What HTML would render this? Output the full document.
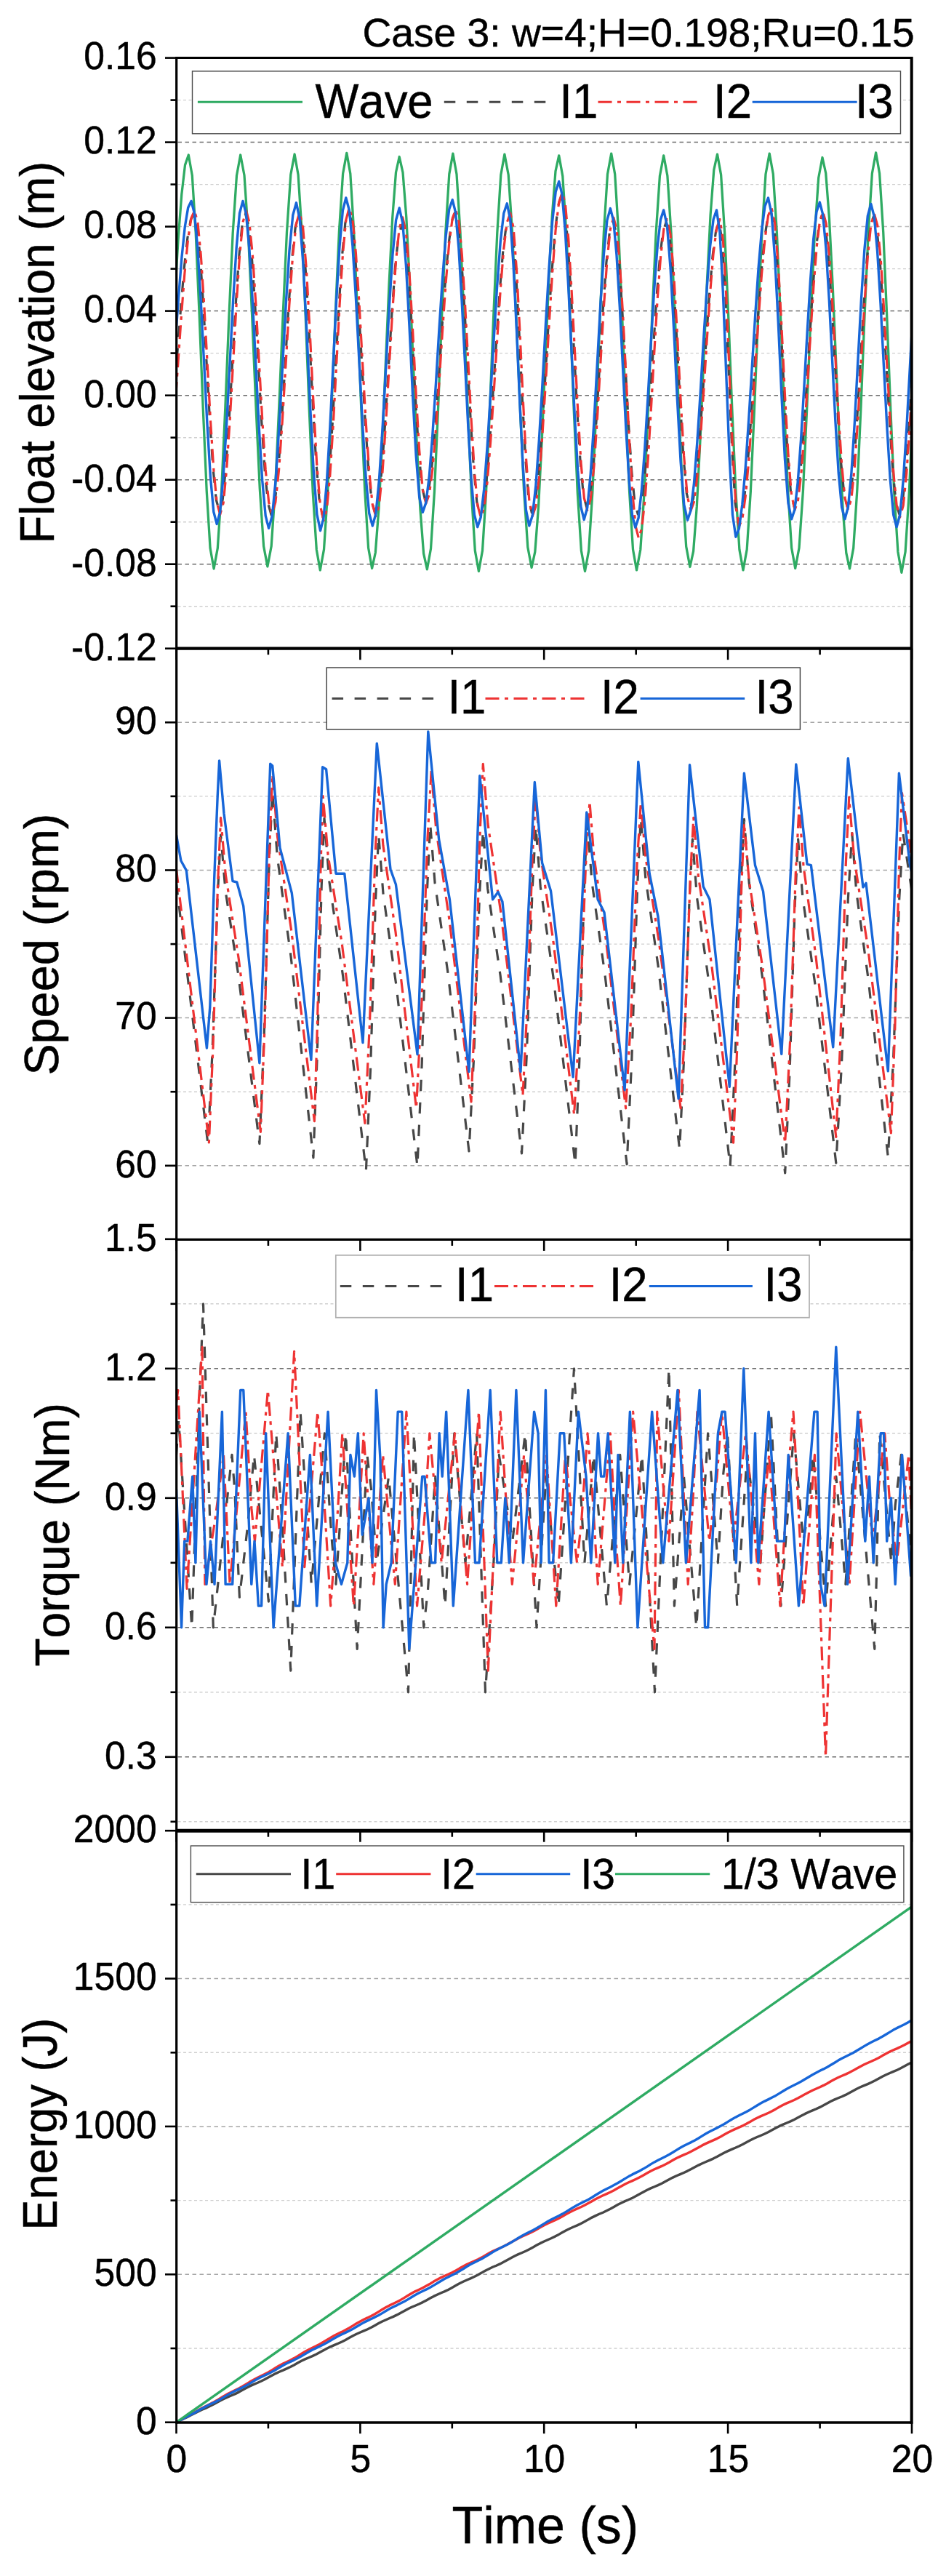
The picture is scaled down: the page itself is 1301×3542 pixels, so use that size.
<!DOCTYPE html>
<html><head><meta charset="utf-8"><title>Case 3</title>
<style>html,body{margin:0;padding:0;background:#fff;}svg{display:block;}text{font-family:"Liberation Sans",sans-serif;fill:#000;stroke:#000;stroke-width:0.45px;font-kerning:none;}</style>
</head><body>
<svg width="1301" height="3542" viewBox="0 0 1301 3542">
<rect width="1301" height="3542" fill="#fff"/>
<defs>
<clipPath id="c1"><rect x="242.5" y="79.6" width="1011.5" height="812.1"/></clipPath>
<clipPath id="c2"><rect x="242.5" y="891.7" width="1011.5" height="812.7"/></clipPath>
<clipPath id="c3"><rect x="242.5" y="1704.4" width="1011.5" height="812.7999999999997"/></clipPath>
<clipPath id="c4"><rect x="242.5" y="2517.2" width="1011.5" height="813.5"/></clipPath>
</defs>
<line x1="244.5" y1="195.6" x2="1252.0" y2="195.6" stroke="#6e6e6e" stroke-width="1.5" stroke-dasharray="5.5 4.5"/>
<line x1="244.5" y1="427.6" x2="1252.0" y2="427.6" stroke="#6e6e6e" stroke-width="1.5" stroke-dasharray="5.5 4.5"/>
<line x1="244.5" y1="543.7" x2="1252.0" y2="543.7" stroke="#6e6e6e" stroke-width="1.5" stroke-dasharray="5.5 4.5"/>
<line x1="244.5" y1="659.7" x2="1252.0" y2="659.7" stroke="#6e6e6e" stroke-width="1.5" stroke-dasharray="5.5 4.5"/>
<line x1="244.5" y1="775.7" x2="1252.0" y2="775.7" stroke="#6e6e6e" stroke-width="1.5" stroke-dasharray="5.5 4.5"/>
<line x1="244.5" y1="311.6" x2="1252.0" y2="311.6" stroke="#bdbdbd" stroke-width="1.5" stroke-dasharray="5.5 4.5"/>
<line x1="244.5" y1="137.6" x2="1252.0" y2="137.6" stroke="#cfcfcf" stroke-width="1.4" stroke-dasharray="4 3.5"/>
<line x1="244.5" y1="253.6" x2="1252.0" y2="253.6" stroke="#cfcfcf" stroke-width="1.4" stroke-dasharray="4 3.5"/>
<line x1="244.5" y1="369.6" x2="1252.0" y2="369.6" stroke="#cfcfcf" stroke-width="1.4" stroke-dasharray="4 3.5"/>
<line x1="244.5" y1="485.6" x2="1252.0" y2="485.6" stroke="#cfcfcf" stroke-width="1.4" stroke-dasharray="4 3.5"/>
<line x1="244.5" y1="601.7" x2="1252.0" y2="601.7" stroke="#cfcfcf" stroke-width="1.4" stroke-dasharray="4 3.5"/>
<line x1="244.5" y1="717.7" x2="1252.0" y2="717.7" stroke="#cfcfcf" stroke-width="1.4" stroke-dasharray="4 3.5"/>
<line x1="244.5" y1="833.7" x2="1252.0" y2="833.7" stroke="#cfcfcf" stroke-width="1.4" stroke-dasharray="4 3.5"/>
<line x1="244.5" y1="993.3" x2="1252.0" y2="993.3" stroke="#a6a6a6" stroke-width="1.5" stroke-dasharray="5.5 4.5"/>
<line x1="244.5" y1="1196.5" x2="1252.0" y2="1196.5" stroke="#a6a6a6" stroke-width="1.5" stroke-dasharray="5.5 4.5"/>
<line x1="244.5" y1="1399.6" x2="1252.0" y2="1399.6" stroke="#a6a6a6" stroke-width="1.5" stroke-dasharray="5.5 4.5"/>
<line x1="244.5" y1="1602.8" x2="1252.0" y2="1602.8" stroke="#a6a6a6" stroke-width="1.5" stroke-dasharray="5.5 4.5"/>
<line x1="244.5" y1="1094.9" x2="1252.0" y2="1094.9" stroke="#cfcfcf" stroke-width="1.4" stroke-dasharray="4 3.5"/>
<line x1="244.5" y1="1298.1" x2="1252.0" y2="1298.1" stroke="#cfcfcf" stroke-width="1.4" stroke-dasharray="4 3.5"/>
<line x1="244.5" y1="1501.2" x2="1252.0" y2="1501.2" stroke="#cfcfcf" stroke-width="1.4" stroke-dasharray="4 3.5"/>
<line x1="244.5" y1="1881.8" x2="1252.0" y2="1881.8" stroke="#6e6e6e" stroke-width="1.5" stroke-dasharray="5.5 4.5"/>
<line x1="244.5" y1="2059.8" x2="1252.0" y2="2059.8" stroke="#6e6e6e" stroke-width="1.5" stroke-dasharray="5.5 4.5"/>
<line x1="244.5" y1="2237.8" x2="1252.0" y2="2237.8" stroke="#6e6e6e" stroke-width="1.5" stroke-dasharray="5.5 4.5"/>
<line x1="244.5" y1="2415.8" x2="1252.0" y2="2415.8" stroke="#6e6e6e" stroke-width="1.5" stroke-dasharray="5.5 4.5"/>
<line x1="244.5" y1="1792.8" x2="1252.0" y2="1792.8" stroke="#cfcfcf" stroke-width="1.4" stroke-dasharray="4 3.5"/>
<line x1="244.5" y1="1970.8" x2="1252.0" y2="1970.8" stroke="#cfcfcf" stroke-width="1.4" stroke-dasharray="4 3.5"/>
<line x1="244.5" y1="2148.8" x2="1252.0" y2="2148.8" stroke="#cfcfcf" stroke-width="1.4" stroke-dasharray="4 3.5"/>
<line x1="244.5" y1="2326.8" x2="1252.0" y2="2326.8" stroke="#cfcfcf" stroke-width="1.4" stroke-dasharray="4 3.5"/>
<line x1="244.5" y1="2504.8" x2="1252.0" y2="2504.8" stroke="#cfcfcf" stroke-width="1.4" stroke-dasharray="4 3.5"/>
<line x1="244.5" y1="2720.6" x2="1252.0" y2="2720.6" stroke="#a6a6a6" stroke-width="1.5" stroke-dasharray="5.5 4.5"/>
<line x1="244.5" y1="2923.9" x2="1252.0" y2="2923.9" stroke="#a6a6a6" stroke-width="1.5" stroke-dasharray="5.5 4.5"/>
<line x1="244.5" y1="3127.3" x2="1252.0" y2="3127.3" stroke="#a6a6a6" stroke-width="1.5" stroke-dasharray="5.5 4.5"/>
<line x1="244.5" y1="2618.9" x2="1252.0" y2="2618.9" stroke="#cfcfcf" stroke-width="1.4" stroke-dasharray="4 3.5"/>
<line x1="244.5" y1="2822.3" x2="1252.0" y2="2822.3" stroke="#cfcfcf" stroke-width="1.4" stroke-dasharray="4 3.5"/>
<line x1="244.5" y1="3025.6" x2="1252.0" y2="3025.6" stroke="#cfcfcf" stroke-width="1.4" stroke-dasharray="4 3.5"/>
<line x1="244.5" y1="3229" x2="1252.0" y2="3229" stroke="#cfcfcf" stroke-width="1.4" stroke-dasharray="4 3.5"/>
<polyline points="235.4,497.5 240.2,409.6 245,330.3 249.8,267.3 254.5,226.9 259.3,213 264.3,241.2 269.2,320.1 274.2,434.2 279.2,560.8 284.2,674.9 289.1,753.8 294.1,782 299.3,753.8 304.6,674.9 309.8,560.8 315,434.2 320.2,320.1 325.5,241.2 330.7,213 336,241 341.3,319.6 346.6,433 352,559 357.3,672.4 362.6,751 367.9,779 373.2,750.9 378.5,672.3 383.8,558.6 389.2,432.4 394.5,318.7 399.8,240.1 405.1,212 410.1,240.3 415.2,319.7 420.2,434.4 425.2,561.6 430.2,676.3 435.3,755.7 440.3,784 445.5,755.6 450.7,676 455.9,561 461.2,433.4 466.4,318.4 471.6,238.8 476.8,210.4 481.8,238.7 486.7,317.9 491.7,432.4 496.7,559.5 501.7,674 506.6,753.2 511.6,781.5 516.3,760 521,698.6 525.7,606.8 530.4,498.5 535.1,390.2 539.8,298.4 544.5,237 549.2,215.5 554,237.1 558.8,298.6 563.5,390.6 568.3,499.1 573.1,607.7 577.9,699.7 582.6,761.2 587.4,782.8 592.5,754.5 597.5,675.2 602.6,560.6 607.7,433.3 612.8,318.7 617.8,239.4 622.9,211.1 628,239.5 633,319.2 638.1,434.4 643.2,562.2 648.3,677.4 653.3,757.1 658.4,785.5 663.5,757.1 668.5,677.6 673.6,562.6 678.7,435 683.8,320 688.8,240.5 693.9,212.1 699.2,240.2 704.5,319.1 709.8,433.1 715.2,559.5 720.5,673.5 725.8,752.4 731.1,780.5 735.8,758.9 740.5,697.5 745.2,605.6 749.9,497.2 754.6,388.7 759.3,296.8 764,235.4 768.7,213.8 773.8,242.1 778.9,321.4 784,436 789.2,563.3 794.3,677.9 799.4,757.2 804.5,785.5 809.7,757.1 814.8,677.4 820,562.2 825.2,434.4 830.4,319.2 835.5,239.5 840.7,211.1 845.7,239.5 850.6,318.9 855.6,433.8 860.6,561.2 865.6,676.1 870.5,755.5 875.5,783.9 880.8,755.7 886.1,676.6 891.4,562.3 896.8,435.4 902.1,321.1 907.4,242 912.7,213.8 917.9,241.8 923,320.3 928.2,433.7 933.4,559.6 938.6,673 943.7,751.5 948.9,779.5 953.6,757.9 958.3,696.4 963,604.4 967.7,495.8 972.4,387.2 977.1,295.2 981.8,233.7 986.5,212.1 991.6,240.4 996.6,319.7 1001.7,434.4 1006.8,561.6 1011.9,676.3 1016.9,755.6 1022,783.9 1027.2,755.5 1032.3,676.1 1037.5,561.2 1042.7,433.8 1047.9,318.9 1053,239.5 1058.2,211.1 1063.3,239.3 1068.3,318.5 1073.4,432.8 1078.5,559.8 1083.6,674.1 1088.6,753.3 1093.7,781.5 1099,753.5 1104.4,675.1 1109.7,561.9 1115,436.1 1120.3,322.9 1125.7,244.5 1131,216.5 1135.7,238 1140.4,299.3 1145.1,391 1149.8,499.2 1154.4,607.4 1159.1,699.1 1163.8,760.4 1168.5,781.9 1173.7,753.6 1178.8,674.2 1184,559.5 1189.1,432.3 1194.3,317.6 1199.4,238.2 1204.6,209.9 1209.6,238.5 1214.7,318.6 1219.7,434.4 1224.8,562.8 1229.8,678.6 1234.9,758.7 1239.9,787.3 1245.1,758.8 1250.2,679 1255.4,563.7 1260.5,435.6" fill="none" stroke="#2fab63" stroke-width="3.3" stroke-linejoin="round" clip-path="url(#c1)"/>
<polyline points="236.3,587 240.6,530.5 244.9,471.6 249.3,415.1 253.6,365.5 257.9,327 262.2,302.5 266.5,294.1 270.9,309.7 275.3,354 279.7,420.3 284.1,498.5 288.5,576.7 292.9,642.9 297.3,687.2 301.7,702.8 306.2,687.2 310.6,642.9 315.1,576.7 319.6,498.5 324.1,420.3 328.6,354 333,309.7 337.5,294.1 341.9,309.9 346.4,354.7 350.9,421.9 355.3,501.1 359.8,580.3 364.2,647.4 368.7,692.3 373.1,708 377.8,692.4 382.6,647.7 387.3,581 392.1,502.2 396.8,423.4 401.5,356.6 406.3,312 411,296.3 415.7,316.9 420.5,374.4 425.2,457.6 429.9,549.9 434.6,633.1 439.4,690.6 444.1,711.2 448.5,695.1 452.9,649.5 457.3,581.2 461.7,500.6 466.1,420.1 470.5,351.7 474.9,306.1 479.3,290.1 483.9,305.9 488.4,350.8 493,418.1 497.5,497.5 502.1,576.9 506.7,644.2 511.2,689.2 515.8,705 520.4,689.9 525,647 529.6,582.8 534.2,507 538.9,431.2 543.5,367 548.1,324 552.7,309 557.3,327.7 561.9,380.3 566.5,456.3 571,540.6 575.6,616.6 580.2,669.1 584.8,687.9 589.3,676 593.9,641.6 598.4,589.1 603,524.5 607.5,455.9 612.1,391.4 616.6,338.8 621.2,304.5 625.7,292.6 630,308.3 634.3,353.2 638.6,420.3 643,499.6 647.3,578.8 651.6,645.9 655.9,690.8 660.2,706.6 664.7,694.2 669.2,658.7 673.7,604.2 678.2,537.4 682.8,466.4 687.3,399.6 691.8,345.1 696.3,309.6 700.8,297.3 705.2,317.4 709.5,374 713.9,455.8 718.2,546.5 722.6,628.2 726.9,684.8 731.3,705 735.8,691.9 740.4,654 744.9,596.1 749.5,525 754,449.3 758.6,378.2 763.1,320.3 767.7,282.4 772.2,269.3 776.5,285.6 780.8,332 785.1,401.4 789.5,483.2 793.8,565.1 798.1,634.5 802.4,680.9 806.7,697.2 811.2,682.2 815.8,639.5 820.3,575.7 824.8,500.3 829.3,425 833.9,361.2 838.4,318.5 842.9,303.5 847.2,318.9 851.5,362.6 855.8,428.1 860.1,505.3 864.4,582.5 868.7,648 873,691.8 877.3,707.1 881.6,695 885.9,660.2 890.3,606.7 894.6,541.2 898.9,471.5 903.2,406 907.6,352.6 911.9,317.7 916.2,305.6 920.9,325 925.6,379.5 930.3,458.1 934.9,545.4 939.6,624 944.3,678.4 949,697.8 953.4,686 957.9,651.9 962.3,599.8 966.8,535.8 971.2,467.7 975.7,403.7 980.1,351.5 984.6,317.5 989,305.6 993.4,333.3 997.8,409 1002.2,512.3 1006.6,615.6 1011,691.3 1015.4,719 1019.9,708.5 1024.3,678 1028.8,630.6 1033.2,570.8 1037.7,504.5 1042.2,438.3 1046.6,378.5 1051.1,331 1055.5,300.6 1060,290.1 1064.6,310.2 1069.2,366.6 1073.8,448.1 1078.3,538.5 1082.9,620 1087.5,676.4 1092.1,696.5 1096.4,684.4 1100.7,649.6 1105,596.3 1109.3,530.9 1113.6,461.3 1117.9,395.8 1122.2,342.5 1126.5,307.7 1130.8,295.6 1135.1,310.9 1139.5,354.3 1143.8,419.4 1148.1,496.1 1152.4,572.8 1156.8,637.8 1161.1,681.3 1165.4,696.5 1169.9,681.4 1174.4,638.2 1178.9,573.5 1183.3,497.2 1187.8,420.9 1192.3,356.3 1196.8,313.1 1201.3,297.9 1205.7,313.5 1210.1,357.7 1214.5,424 1218.9,502.2 1223.4,580.4 1227.8,646.7 1232.2,691 1236.6,706.6 1241.2,691 1245.8,646.6 1250.4,580.3 1255,502 1259.7,423.7" fill="none" stroke="#474747" stroke-width="3.2" stroke-linejoin="round" stroke-dasharray="15.5 15.5" clip-path="url(#c1)"/>
<polyline points="235.9,621.8 240.4,563.5 244.9,498.9 249.4,434.3 253.9,376 258.5,329.7 263,300 267.5,289.8 271.9,305.7 276.3,351 280.7,418.7 285.1,498.6 289.5,578.5 293.9,646.2 298.3,691.5 302.7,707.4 307.2,691.5 311.6,646.2 316.1,578.5 320.6,498.6 325.1,418.7 329.6,351 334,305.7 338.5,289.8 342.9,305.7 347.4,350.9 351.9,418.5 356.3,498.3 360.8,578 365.2,645.7 369.7,690.9 374.1,706.7 378.8,690.9 383.6,646 388.3,578.7 393.1,499.4 397.8,420.1 402.5,352.8 407.3,307.9 412,292.1 416.7,313.1 421.5,371.9 426.2,456.8 430.9,551.2 435.6,636.1 440.4,694.9 445.1,715.9 449.5,699.5 453.9,652.9 458.3,583.1 462.7,500.8 467.1,418.5 471.5,348.7 475.9,302.1 480.3,285.7 484.9,301.8 489.4,347.8 494,416.5 498.5,497.6 503.1,578.8 507.7,647.5 512.2,693.5 516.8,709.6 521.4,694 526,649.5 530.6,582.8 535.2,504.2 539.9,425.6 544.5,359 549.1,314.5 553.7,298.8 558.3,318.3 562.9,372.9 567.5,451.7 572,539.2 576.6,618.1 581.2,672.7 585.8,692.1 590.3,680 594.9,644.9 599.4,591.2 604,525.2 608.5,455.1 613.1,389.2 617.6,335.5 622.2,300.4 626.7,288.2 631,304.3 635.3,350.2 639.6,418.8 644,499.7 648.3,580.7 652.6,649.3 656.9,695.1 661.2,711.2 665.7,698.6 670.2,662.3 674.7,606.7 679.2,538.4 683.8,465.8 688.3,397.6 692.8,341.9 697.3,305.6 701.8,293 706.2,313.6 710.5,371.4 714.9,455 719.2,547.7 723.6,631.2 727.9,689 732.3,709.6 736.8,696.2 741.4,657.5 745.9,598.3 750.5,525.7 755,448.4 759.6,375.7 764.1,316.5 768.7,277.9 773.2,264.4 777.5,281.1 781.8,328.5 786.1,399.4 790.5,483 794.8,566.7 799.1,637.6 803.4,685 807.7,701.6 812.2,686.3 816.8,642.7 821.3,577.5 825.8,500.5 830.3,423.6 834.9,358.3 839.4,314.7 843.9,299.4 848.2,316.2 852.5,363.9 856.8,435.3 861.1,519.6 865.4,603.9 869.7,675.3 874,723 878.3,739.8 882.6,726.6 886.9,688.5 891.3,630.2 895.6,558.7 899.9,482.6 904.2,411.1 908.6,352.8 912.9,314.8 917.2,301.6 921.9,321.4 926.6,377 931.3,457.3 935.9,546.5 940.6,626.9 945.3,682.4 950,702.3 954.4,690.2 958.9,655.4 963.3,602.1 967.8,536.7 972.2,467.1 976.7,401.7 981.1,348.4 985.6,313.6 990,301.6 994.4,329.9 998.8,407.2 1003.2,512.7 1007.6,618.3 1012,695.6 1016.4,723.9 1020.9,713.2 1025.3,682.1 1029.8,633.6 1034.2,572.5 1038.7,504.8 1043.2,437.1 1047.6,376 1052.1,327.5 1056.5,296.4 1061,285.7 1065.6,306.2 1070.2,363.9 1074.8,447.1 1079.3,539.5 1083.9,622.8 1088.5,680.4 1093.1,701 1097.4,688.6 1101.7,653.1 1106,598.6 1110.3,531.7 1114.6,460.6 1118.9,393.7 1123.2,339.2 1127.5,303.7 1131.8,291.3 1136.1,306.9 1140.5,351.3 1144.8,417.8 1149.1,496.1 1153.4,574.5 1157.8,641 1162.1,685.4 1166.4,701 1170.9,685.5 1175.4,641.3 1179.9,575.3 1184.3,497.3 1188.8,419.4 1193.3,353.3 1197.8,309.2 1202.3,293.7 1206.7,309.6 1211.1,354.8 1215.5,422.5 1219.9,502.4 1224.4,582.3 1228.8,650.1 1233.2,695.3 1237.6,711.2 1242.2,695.3 1246.8,650 1251.4,582.2 1256,502.2 1260.7,422.2" fill="none" stroke="#ee3333" stroke-width="3.2" stroke-linejoin="round" stroke-dasharray="19 7.5 5 7.5" clip-path="url(#c1)"/>
<polyline points="237,530.9 241.3,467.5 245.7,406.6 250,353.3 254.3,311.8 258.7,285.4 263,276.4 267.4,293.3 271.8,341.5 276.2,413.5 280.6,498.5 285,583.5 289.4,655.5 293.8,703.7 298.2,720.6 302.7,703.7 307.1,655.5 311.6,583.5 316.1,498.5 320.6,413.5 325.1,341.5 329.5,293.3 334,276.4 338.4,293.5 342.9,342.3 347.4,415.3 351.8,501.3 356.2,587.4 360.7,660.4 365.2,709.2 369.6,726.3 374.3,709.3 379.1,660.8 383.8,588.2 388.6,502.6 393.3,416.9 398,344.3 402.8,295.8 407.5,278.8 412.2,301.1 417,363.7 421.7,454.1 426.4,554.4 431.1,644.8 435.9,707.4 440.6,729.7 445,712.3 449.4,662.7 453.8,588.4 458.2,500.9 462.6,413.3 467,339 471.4,289.4 475.8,272 480.4,289.2 484.9,338 489.5,411.2 494,497.5 498.6,583.8 503.2,657 507.7,705.8 512.3,723 516.9,706.4 521.5,659 526.1,588.1 530.8,504.5 535.4,420.9 540,350 544.6,302.6 549.2,286 553.8,306.7 558.4,364.8 563,448.6 567.5,541.8 572.1,625.6 576.7,683.7 581.3,704.4 585.8,691.4 590.4,654.1 594.9,597 599.5,526.9 604,452.2 608.6,382.1 613.1,325 617.7,287.7 622.2,274.7 626.5,291.8 630.8,340.6 635.1,413.6 639.5,499.7 643.8,585.8 648.1,658.8 652.4,707.6 656.7,724.7 661.2,711.3 665.7,672.7 670.2,613.5 674.7,540.9 679.3,463.6 683.8,391 688.3,331.8 692.8,293.2 697.3,279.8 701.7,301.7 706,363.2 710.4,452.1 714.7,550.7 719.1,639.6 723.4,701.1 727.8,723 732.3,708.7 736.9,667.6 741.4,604.6 746,527.3 750.5,445.1 755.1,367.8 759.6,304.8 764.2,263.7 768.7,249.4 773,267.1 777.3,317.5 781.6,393 786,481.9 790.3,570.9 794.6,646.4 798.9,696.8 803.2,714.5 807.7,698.2 812.2,651.8 816.8,582.4 821.3,500.6 825.8,418.7 830.4,349.3 834.9,302.9 839.4,286.6 843.7,303.3 848,350.8 852.3,422 856.6,505.9 860.9,589.9 865.2,661.1 869.5,708.6 873.8,725.3 878.1,712.1 882.4,674.3 886.8,616.2 891.1,545 895.4,469.2 899.7,398 904.1,339.9 908.4,302.1 912.7,288.9 917.4,310 922.1,369.2 926.8,454.6 931.4,549.5 936.1,634.9 940.8,694.1 945.5,715.2 949.9,702.3 954.4,665.3 958.8,608.6 963.3,539.1 967.7,465 972.2,395.5 976.6,338.8 981.1,301.8 985.5,288.9 989.9,319 994.3,401.2 998.7,513.5 1003.1,625.9 1007.5,708.1 1011.9,738.2 1016.4,726.8 1020.8,693.7 1025.3,642.1 1029.7,577.1 1034.2,505.1 1038.7,433.1 1043.1,368.1 1047.6,316.5 1052,283.4 1056.5,272 1061.1,293.9 1065.7,355.2 1070.3,443.7 1074.8,542.1 1079.4,630.6 1084,691.9 1088.6,713.8 1092.9,700.7 1097.2,662.8 1101.5,604.9 1105.8,533.7 1110.1,458.1 1114.4,387 1118.7,329 1123,291.1 1127.3,278 1131.6,294.6 1136,341.8 1140.3,412.5 1144.6,495.9 1148.9,579.3 1153.2,650 1157.6,697.2 1161.9,713.8 1166.4,697.3 1170.9,650.3 1175.4,580.1 1179.8,497.1 1184.3,414.2 1188.8,344 1193.3,297 1197.8,280.5 1202.2,297.4 1206.6,345.6 1211,417.6 1215.4,502.6 1219.9,587.6 1224.3,659.6 1228.7,707.8 1233.1,724.7 1237.7,707.8 1242.3,659.6 1246.9,587.4 1251.5,502.4 1256.2,417.3 1260.8,345.1" fill="none" stroke="#1766d8" stroke-width="3.4" stroke-linejoin="round" clip-path="url(#c1)"/>
<polyline points="242.5,1215 285.9,1572.6 292.1,1445.2 299.2,1232.9 303.6,1148 310,1224.4 327.6,1339.1 356.9,1572.6 363.1,1427.2 370.2,1184.9 374.7,1088 381.4,1178.7 400,1314.8 430.9,1591.9 436.2,1451.8 442.2,1218.4 446,1125 452.9,1212.2 471.8,1343.1 503.4,1609.6 509.5,1471.1 516.4,1240.3 520.7,1148 527.1,1230 544.7,1353.1 574,1603.7 580.2,1462.5 587.3,1227.3 591.7,1133.2 598.1,1214.2 615.7,1335.6 645,1583 651.8,1450.7 659.5,1230.2 664.3,1142 670.7,1221.9 688.2,1341.8 717.5,1586 724.3,1451 732,1226 736.8,1136 743.3,1219.7 761.2,1345.2 791.1,1600.8 796.8,1458.8 803.3,1222 807.4,1127.3 814,1212.5 832,1340.4 862.1,1600.8 868.8,1457.8 876.5,1219.6 881.3,1124.3 887.7,1206.3 905.3,1329.4 934.6,1580 940.8,1452.2 948,1239.1 952.4,1153.9 958.6,1234.9 975.7,1356.3 1004.2,1603.7 1010.9,1460.5 1018.6,1221.9 1023.4,1126.4 1030.2,1214 1048.7,1345.4 1079.7,1613 1086,1475.3 1093.1,1245.7 1097.6,1153.9 1103.9,1234.1 1121.1,1354.3 1149.8,1599.2 1157.5,1463.2 1166.3,1236.4 1171.8,1145.7 1177.7,1225.9 1194.1,1346.1 1221.3,1591 1228.5,1457.4 1236.8,1234.8 1241.9,1145.7 1254,1225" fill="none" stroke="#474747" stroke-width="3.2" stroke-linejoin="round" stroke-dasharray="15.5 15.5" clip-path="url(#c2)"/>
<polyline points="242.5,1195 287.4,1571 293.1,1437 299.6,1213.6 303.6,1124.3 310.2,1202.1 328.3,1318.7 358.4,1556.4 364.1,1409 370.6,1163.4 374.7,1065.1 381.6,1150.9 400.7,1279.5 432.4,1541.6 436.5,1407.5 441.2,1184.1 444.2,1094.7 451.1,1175.7 470.2,1297.1 501.9,1544.5 508.5,1406 516,1175.2 520.7,1082.9 526.9,1162.3 544,1281.3 572.5,1523.8 579.7,1384.4 588,1152.1 593.2,1059.2 599.8,1141.2 617.9,1264.3 648,1515 653.7,1375.6 660.2,1143.2 664.3,1050.3 670.9,1132.3 688.9,1255.4 719,1506 725.2,1382.6 732.3,1177 736.8,1094.7 743.1,1173.5 760.6,1291.8 789.6,1532.7 797.1,1403.5 805.6,1188.2 810.9,1102.1 816.9,1178 833.3,1291.9 860.6,1523.8 867.8,1397.7 876.1,1187.6 881.3,1103.6 887.9,1179.2 906,1292.7 936.1,1523.8 942.3,1404 949.4,1204.2 953.8,1124.3 960.4,1204.7 978.5,1325.4 1008.6,1571.2 1013.8,1439.4 1019.7,1219.8 1023.4,1131.9 1030.2,1211.1 1048.7,1329.8 1079.7,1571.7 1086.5,1433.2 1094.2,1202.3 1099,1110 1105.1,1191.6 1121.9,1314.1 1149.8,1563.5 1156.1,1423.3 1163.2,1189.7 1167.7,1096.2 1174.6,1179.3 1193.7,1304 1225.4,1558 1230.7,1417.8 1236.7,1184.2 1240.5,1090.7 1254,1180" fill="none" stroke="#ee3333" stroke-width="3.2" stroke-linejoin="round" stroke-dasharray="19 7.5 5 7.5" clip-path="url(#c2)"/>
<polyline points="242.5,1148 248.9,1183.5 256.3,1196.8 284.4,1441 288.8,1384.7 294.7,1207 299.2,1094.7 301.6,1045.9 308,1118.4 320,1211.6 325.8,1213 334.7,1245.6 356.9,1461.7 371.7,1050.3 374.7,1053 385,1165.7 401.3,1227.9 427.9,1457.2 443.6,1054.7 448.6,1057.7 462,1201.2 473.8,1201.2 499,1433.6 518.3,1022.2 537,1195.3 544.4,1216 574,1449.8 588.8,1005.9 603.6,1153.9 618.4,1236.8 645,1473.5 659.8,1066.6 677.6,1236.8 685,1226.4 690.9,1239.7 716,1473.5 735.3,1075.5 745.6,1186.4 757.5,1225 788.1,1480.9 806.8,1116.9 822.1,1236.8 831,1254.5 859.1,1498.7 877.8,1047.4 893.2,1201.2 905,1260.4 933.1,1510.5 948.5,1051.8 967.2,1219 976,1236.8 1003.3,1494.2 1023.4,1063.2 1038.5,1189.7 1049.5,1225.4 1074.8,1449.4 1094.8,1050.9 1110,1188.3 1115.4,1189.7 1145.7,1439.8 1166.3,1042.6 1186.9,1219.9 1191,1214.4 1221.3,1472.8 1236.4,1063.2 1251.5,1189.7 1254,1200" fill="none" stroke="#1766d8" stroke-width="3.4" stroke-linejoin="round" clip-path="url(#c2)"/>
<polyline points="242.5,2000.4 245.7,1953 263.8,2237.8 273.8,1937.1 279.5,1792.8 293.3,2237.8 319,2000.4 322.8,2049.3 329.4,2196.2 340.6,2097.9 349.4,2000.4 369.4,2202.2 379.8,1970.8 387.9,2091.7 399.8,2297.1 405.4,2145.3 413.1,1941.1 428.3,2178.4 446.4,1970.8 456.1,2114.7 461.9,2178.4 467.8,2091.6 475.5,1970.8 481.8,2096.5 491.2,2267.4 504.9,2000.4 510.8,2049.9 517.9,2148.8 534.6,2030.1 561.5,2326.8 569.4,1970.8 582.8,2237.8 588.5,2185.8 598.5,2030.1 612.1,2208.1 624.8,1970.8 640,2148.8 648.4,2053.4 655.6,1970.8 667.5,2326.8 679.7,2134.9 686.3,2000.4 704.8,2119.1 722.3,1970.8 738,2237.8 751,2030.1 768.1,2208.1 789.5,1881.8 803.9,2148.8 816.4,2000.4 834.4,2208.1 852.7,2000.4 865.7,2178.4 882.9,2000.4 900.5,2326.8 920,1881.8 927.4,2208.1 940.5,2030.1 957.8,2237.8 973.6,1970.8 987.3,2148.8 994.5,2028.9 1000.5,1970.8 1013.7,2208.1 1027.5,2000.4 1045.8,2148.8 1060.2,1941.1 1073.9,2208.1 1091.6,1970.8 1104.7,2119.1 1112.6,2073.2 1118.4,2000.4 1135.6,2208.1 1149.9,2030.1 1157.2,2113.2 1162.9,2178.4 1176.9,1970.8 1202.8,2267.4 1205.3,2172 1209.8,1970.8 1225.8,2148.8 1231.2,2070.1 1239.4,2000.4 1254,2148.8 1254,2000.4" fill="none" stroke="#474747" stroke-width="3.2" stroke-linejoin="round" stroke-dasharray="15.5 15.5" clip-path="url(#c3)"/>
<polyline points="242.5,1929.3 244.8,1911.5 257.1,2184.4 278,1852.1 281.9,2178.4 295.7,2090.4 307.5,2000.4 316.1,2178.4 338,1941.1 345.9,2074.2 350.4,2119.1 368.4,1911.5 388.4,2154.7 396.8,2002.4 404.6,1858.1 418.8,2154.7 436.8,1941.1 445.1,2051.2 454.7,2208.1 464.5,2077.4 470.8,1970.8 486.4,2208.1 493.1,2096.7 500.1,1970.8 507.8,2088 513.9,2178.4 526.6,2000.4 543.3,2178.4 558.9,1941.1 573.6,2208.1 584.2,2080.7 590.8,1970.8 607.2,2148.8 625.5,1970.8 642.6,2178.4 658.5,1941.1 671.3,2297.1 688.2,1941.1 695.4,2054.1 704.3,2178.4 714.7,2072.4 720.6,2000.4 734.2,2178.4 751.6,2000.4 764.8,2208.1 777.5,2000.4 793.5,2148.8 799.7,2091.1 808,1970.8 814.1,2043.2 822.2,2178.4 839.3,1970.8 846.2,2104.8 853.4,2208.1 870.6,1941.1 900,2267.4 903.8,1941.1 913.6,2060.8 919.9,2119.1 933.4,1911.5 946.2,2178.4 953.7,2048.6 958.9,1941.1 975.5,2119.1 985.9,2031.5 992.8,1941.1 1008.6,2119.1 1025.6,1970.8 1043.9,2178.4 1049,2092.3 1057.6,2000.4 1072.9,2208.1 1084.5,2016.9 1091,1941.1 1095.9,2030.8 1104.8,2208.1 1113.7,2091.3 1120.4,2000.4 1135.5,2415.8 1150.2,1970.8 1168.1,2178.4 1182.7,1941.1 1200.1,2119.1 1216.7,1970.8 1223.2,2059.6 1233.3,2148.8 1249.7,2000.4 1254,2094.2 1254,2178.4" fill="none" stroke="#ee3333" stroke-width="3.2" stroke-linejoin="round" stroke-dasharray="19 7.5 5 7.5" clip-path="url(#c3)"/>
<polyline points="242.5,2047.9 249.6,2237.8 253.7,2119.1 257.9,2119.1 264.7,2030.1 268.9,2148.8 274.4,1941.1 284,2178.4 289.5,2119.1 295,2178.4 305.4,1941.1 310.1,2178.4 319.7,2178.4 330.7,1911.5 334.8,1911.5 345.8,2178.4 350,2119.1 355.4,2208.1 359.6,2208.1 365.6,1970.8 376.1,2237.8 396.1,1970.8 406.3,2208.1 411.8,2208.1 426.4,2000.4 435.7,2208.1 451.1,1941.1 461.3,2148.8 469.5,2178.4 477.8,2148.8 481.9,2000.4 487.4,2030.1 492.3,1970.8 498.2,2110.2 507,2059.8 512,2148.8 517.5,1911.5 523,2006.4 527.1,2237.8 531.2,2178.4 538.1,2148.8 547.2,1941.1 552.7,1941.1 562.8,2267.4 580.7,2030.1 584,2030.1 593.1,2148.8 598.6,2148.8 604.1,1970.8 608.2,2030.1 613.7,1941.1 623.3,2208.1 643.9,1911.5 653.5,2148.8 659,2148.8 674.2,1911.5 683.8,2148.8 689.3,2148.8 694.8,2059.8 700.3,2148.8 709.9,1911.5 719.5,2148.8 734.6,1941.1 740.1,1970.8 744.1,2148.8 750.4,1911.5 755.1,2148.8 760.6,2148.8 770.2,1970.8 775.7,1970.8 785.4,2148.8 795.5,1941.1 806,2030.1 812.8,2148.8 822.5,1970.8 826.6,2030.1 830.7,2030.1 836.2,1970.8 845.8,2148.8 850,2000.4 856.8,2148.8 866.4,1941.1 876.9,2237.8 896.7,1941.1 911.8,2148.8 931.9,1911.5 943.4,2148.8 962.1,1911.5 969.5,2237.8 973.6,2237.8 987.4,1970.8 992.9,1941.1 997.1,1941.1 1012.3,2148.8 1022.8,1881.8 1032.8,2148.8 1038.5,1970.8 1042.8,2148.8 1057.1,1941.1 1068.5,2119.1 1078.5,2119.1 1084.2,2000.4 1098.4,2208.1 1119.9,1941.1 1124.1,1941.1 1128.4,2178.4 1134.1,2208.1 1149.8,1852.1 1165.5,2178.4 1179.8,1941.1 1189.8,2119.1 1195.5,2030.1 1201.2,2148.8 1211.2,1970.8 1215.5,1970.8 1219.7,2119.1 1225.4,2059.8 1231.2,2178.4 1240.6,2000.4 1252.6,2166.6 1254,2148.8" fill="none" stroke="#1766d8" stroke-width="3.4" stroke-linejoin="round" clip-path="url(#c3)"/>
<polyline points="242.5,3330.7 247.6,3328.3 252.6,3325.8 257.7,3323.4 262.7,3320.8 267.8,3318.2 272.8,3315.7 277.9,3313.3 283,3311.1 288,3308.8 293.1,3306.3 298.1,3303.5 303.2,3300.7 308.2,3298.2 313.3,3295.9 318.4,3293.8 323.4,3291.6 328.5,3289.1 333.5,3286.3 338.6,3283.5 343.6,3280.9 348.7,3278.6 353.8,3276.5 358.8,3274.3 363.9,3271.8 368.9,3269.1 374,3266.3 379.1,3263.6 384.1,3261.2 389.2,3259.1 394.2,3256.9 399.3,3254.5 404.3,3251.9 409.4,3249.1 414.5,3246.3 419.5,3243.9 424.6,3241.7 429.6,3239.6 434.7,3237.3 439.7,3234.6 444.8,3231.8 449.9,3229.1 454.9,3226.6 460,3224.4 465,3222.3 470.1,3220 475.1,3217.4 480.2,3214.6 485.3,3211.8 490.3,3209.3 495.4,3207 500.4,3204.9 505.5,3202.7 510.5,3200.2 515.6,3197.4 520.7,3194.6 525.7,3192 530.8,3189.7 535.8,3187.5 540.9,3185.4 546,3182.9 551,3180.2 556.1,3177.4 561.1,3174.7 566.2,3172.3 571.2,3170.2 576.3,3168 581.4,3165.6 586.4,3162.9 591.5,3160.1 596.5,3157.4 601.6,3155 606.6,3152.7 611.7,3150.6 616.8,3148.2 621.8,3145.5 626.9,3142.6 631.9,3139.8 637,3137.3 642,3135 647.1,3132.9 652.2,3130.5 657.2,3127.9 662.3,3125.1 667.3,3122.2 672.4,3119.7 677.4,3117.3 682.5,3115.2 687.6,3112.9 692.6,3110.3 697.7,3107.5 702.7,3104.7 707.8,3102 712.8,3099.6 717.9,3097.5 723,3095.2 728,3092.7 733.1,3089.9 738.1,3087.1 743.2,3084.4 748.2,3082 753.3,3079.8 758.4,3077.5 763.4,3075.1 768.5,3072.4 773.5,3069.5 778.6,3066.8 783.7,3064.3 788.7,3062 793.8,3059.9 798.8,3057.5 803.9,3054.8 808.9,3051.9 814,3049.1 819.1,3046.6 824.1,3044.3 829.2,3042.2 834.2,3039.8 839.3,3037.2 844.3,3034.4 849.4,3031.5 854.5,3029 859.5,3026.6 864.6,3024.5 869.6,3022.2 874.7,3019.6 879.7,3016.8 884.8,3014 889.9,3011.3 894.9,3008.9 900,3006.8 905,3004.6 910.1,3002.2 915.1,2999.5 920.2,2996.7 925.3,2994.1 930.3,2991.8 935.4,2989.6 940.4,2987.5 945.5,2985.1 950.5,2982.5 955.6,2979.7 960.7,2977.1 965.7,2974.7 970.8,2972.5 975.8,2970.4 980.9,2968.1 986,2965.5 991,2962.7 996.1,2960 1001.1,2957.6 1006.2,2955.4 1011.2,2953.3 1016.3,2951 1021.4,2948.5 1026.4,2945.7 1031.5,2943 1036.5,2940.5 1041.6,2938.3 1046.6,2936.2 1051.7,2934 1056.8,2931.5 1061.8,2928.8 1066.9,2926 1071.9,2923.4 1077,2921.1 1082,2919 1087.1,2916.9 1092.2,2914.5 1097.2,2911.8 1102.3,2909 1107.3,2906.4 1112.4,2904 1117.4,2901.9 1122.5,2899.8 1127.6,2897.4 1132.6,2894.8 1137.7,2892 1142.7,2889.3 1147.8,2886.9 1152.8,2884.8 1157.9,2882.7 1163,2880.4 1168,2877.8 1173.1,2875 1178.1,2872.3 1183.2,2869.8 1188.3,2867.6 1193.3,2865.6 1198.4,2863.3 1203.4,2860.8 1208.5,2858 1213.5,2855.3 1218.6,2852.8 1223.7,2850.5 1228.7,2848.4 1233.8,2846.2 1238.8,2843.7 1243.9,2841 1248.9,2838.3 1254,2835.7" fill="none" stroke="#474747" stroke-width="3.4" stroke-linejoin="round" clip-path="url(#c4)"/>
<polyline points="242.5,3330.7 247.6,3327.9 252.6,3325.2 257.7,3322.5 262.7,3319.7 267.8,3316.8 272.8,3313.9 277.9,3311.1 283,3308.4 288,3305.9 293.1,3303.4 298.1,3300.6 303.2,3297.5 308.2,3294.4 313.3,3291.6 318.4,3289 323.4,3286.5 328.5,3284 333.5,3281.3 338.6,3278.2 343.6,3275.1 348.7,3272.2 353.8,3269.5 358.8,3267.1 363.9,3264.6 368.9,3261.9 374,3258.9 379.1,3255.8 384.1,3252.8 389.2,3250.1 394.2,3247.7 399.3,3245.2 404.3,3242.6 409.4,3239.6 414.5,3236.5 419.5,3233.5 424.6,3230.7 429.6,3228.2 434.7,3225.8 439.7,3223.2 444.8,3220.3 449.9,3217.2 454.9,3214.2 460,3211.3 465,3208.8 470.1,3206.4 475.1,3203.8 480.2,3201 485.3,3197.9 490.3,3194.8 495.4,3191.9 500.4,3189.3 505.5,3186.9 510.5,3184.4 515.6,3181.7 520.7,3178.6 525.7,3175.5 530.8,3172.6 535.8,3169.9 540.9,3167.5 546,3165 551,3162.4 556.1,3159.4 561.1,3156.3 566.2,3153.3 571.2,3150.6 576.3,3148.2 581.4,3145.8 586.4,3143.1 591.5,3140.2 596.5,3137.1 601.6,3134.2 606.6,3131.6 611.7,3129.3 616.8,3127.1 621.8,3124.7 626.9,3122 631.9,3119.1 637,3116.3 642,3113.6 647.1,3111.3 652.2,3109.1 657.2,3106.7 662.3,3104.1 667.3,3101.2 672.4,3098.3 677.4,3095.6 682.5,3093.2 687.6,3091 692.6,3088.7 697.7,3086.1 702.7,3083.3 707.8,3080.4 712.8,3077.7 717.9,3075.2 723,3073 728,3070.7 733.1,3068.2 738.1,3065.4 743.2,3062.5 748.2,3059.7 753.3,3057.2 758.4,3054.9 763.4,3052.7 768.5,3050.2 773.5,3047.5 778.6,3044.6 783.7,3041.8 788.7,3039.2 793.8,3036.9 798.8,3034.7 803.9,3032.3 808.9,3029.6 814,3026.7 819.1,3023.8 824.1,3021.2 829.2,3018.8 834.2,3016.6 839.3,3014.3 844.3,3011.7 849.4,3008.8 854.5,3005.9 859.5,3003.2 864.6,3000.8 869.6,2998.6 874.7,2996.3 879.7,2993.7 884.8,2990.9 889.9,2988 894.9,2985.2 900,2982.8 905,2980.6 910.1,2978.4 915.1,2975.9 920.2,2973.2 925.3,2970.3 930.3,2967.5 935.4,2965.1 940.4,2962.9 945.5,2960.7 950.5,2958.2 955.6,2955.6 960.7,2952.7 965.7,2949.9 970.8,2947.4 975.8,2945.1 980.9,2942.9 986,2940.6 991,2937.9 996.1,2935.1 1001.1,2932.3 1006.2,2929.7 1011.2,2927.4 1016.3,2925.2 1021.4,2922.9 1026.4,2920.3 1031.5,2917.5 1036.5,2914.6 1041.6,2912 1046.6,2909.6 1051.7,2907.5 1056.8,2905.2 1061.8,2902.7 1066.9,2899.9 1071.9,2897 1077,2894.3 1082,2891.9 1087.1,2889.7 1092.2,2887.5 1097.2,2885 1102.3,2882.3 1107.3,2879.4 1112.4,2876.7 1117.4,2874.2 1122.5,2872 1127.6,2869.8 1132.6,2867.4 1137.7,2864.7 1142.7,2861.8 1147.8,2859 1152.8,2856.5 1157.9,2854.2 1163,2852.1 1168,2849.7 1173.1,2847.1 1178.1,2844.2 1183.2,2841.4 1188.3,2838.8 1193.3,2836.5 1198.4,2834.3 1203.4,2832 1208.5,2829.5 1213.5,2826.6 1218.6,2823.8 1223.7,2821.1 1228.7,2818.8 1233.8,2816.6 1238.8,2814.3 1243.9,2811.8 1248.9,2809 1254,2806.2" fill="none" stroke="#ee3333" stroke-width="3.4" stroke-linejoin="round" clip-path="url(#c4)"/>
<polyline points="242.5,3330.7 247.6,3328 252.6,3325.3 257.7,3322.7 262.7,3320.1 267.8,3317.4 272.8,3314.6 277.9,3311.7 283,3308.9 288,3306.3 293.1,3304 298.1,3301.6 303.2,3298.9 308.2,3295.9 313.3,3292.9 318.4,3290 323.4,3287.5 328.5,3285.1 333.5,3282.7 338.6,3280.1 343.6,3277.2 348.7,3274.1 353.8,3271.3 358.8,3268.6 363.9,3266.3 368.9,3263.9 374,3261.3 379.1,3258.5 384.1,3255.4 389.2,3252.5 394.2,3249.8 399.3,3247.4 404.3,3245.1 409.4,3242.5 414.5,3239.7 419.5,3236.7 424.6,3233.7 429.6,3231 434.7,3228.6 439.7,3226.2 444.8,3223.7 449.9,3221 454.9,3218 460,3215 465,3212.2 470.1,3209.7 475.1,3207.4 480.2,3204.9 485.3,3202.2 490.3,3199.3 495.4,3196.3 500.4,3193.4 505.5,3190.9 510.5,3188.5 515.6,3186.1 520.7,3183.5 525.7,3180.6 530.8,3177.5 535.8,3174.6 540.9,3172 546,3169.6 551,3167.1 556.1,3164.5 561.1,3161.6 566.2,3158.5 571.2,3155.5 576.3,3152.7 581.4,3150.3 586.4,3147.9 591.5,3145.3 596.5,3142.4 601.6,3139.3 606.6,3136.2 611.7,3133.3 616.8,3130.8 621.8,3128.3 626.9,3125.7 631.9,3122.8 637,3119.7 642,3116.5 647.1,3113.6 652.2,3111 657.2,3108.5 662.3,3106 667.3,3103.1 672.4,3100 677.4,3096.9 682.5,3093.9 687.6,3091.2 692.6,3088.7 697.7,3086.2 702.7,3083.5 707.8,3080.4 712.8,3077.2 717.9,3074.2 723,3071.5 728,3069 733.1,3066.5 738.1,3063.8 743.2,3060.8 748.2,3057.6 753.3,3054.5 758.4,3051.7 763.4,3049.2 768.5,3046.7 773.5,3044.1 778.6,3041.1 783.7,3038 788.7,3034.9 793.8,3032 798.8,3029.4 803.9,3027 808.9,3024.4 814,3021.5 819.1,3018.3 824.1,3015.2 829.2,3012.3 834.2,3009.7 839.3,3007.2 844.3,3004.6 849.4,3001.8 854.5,2998.7 859.5,2995.6 864.6,2992.6 869.6,2989.9 874.7,2987.4 879.7,2984.9 884.8,2982.1 889.9,2979.1 894.9,2975.9 900,2972.9 905,2970.2 910.1,2967.7 915.1,2965.2 920.2,2962.5 925.3,2959.5 930.3,2956.4 935.4,2953.3 940.4,2950.6 945.5,2948 950.5,2945.6 955.6,2942.9 960.7,2940 965.7,2936.9 970.8,2933.8 975.8,2931 980.9,2928.4 986,2925.9 991,2923.3 996.1,2920.5 1001.1,2917.4 1006.2,2914.3 1011.2,2911.4 1016.3,2908.7 1021.4,2906.3 1026.4,2903.7 1031.5,2900.9 1036.5,2897.9 1041.6,2894.7 1046.6,2891.8 1051.7,2889.1 1056.8,2886.6 1061.8,2884.1 1066.9,2881.4 1071.9,2878.4 1077,2875.2 1082,2872.2 1087.1,2869.5 1092.2,2867 1097.2,2864.5 1102.3,2861.8 1107.3,2858.8 1112.4,2855.7 1117.4,2852.7 1122.5,2849.9 1127.6,2847.3 1132.6,2844.9 1137.7,2842.3 1142.7,2839.3 1147.8,2836.2 1152.8,2833.1 1157.9,2830.3 1163,2827.7 1168,2825.3 1173.1,2822.7 1178.1,2819.8 1183.2,2816.7 1188.3,2813.6 1193.3,2810.7 1198.4,2808.1 1203.4,2805.6 1208.5,2803.1 1213.5,2800.3 1218.6,2797.2 1223.7,2794.1 1228.7,2791.1 1233.8,2788.4 1238.8,2786 1243.9,2783.5 1248.9,2780.7 1254,2777.7" fill="none" stroke="#1766d8" stroke-width="3.4" stroke-linejoin="round" clip-path="url(#c4)"/>
<polyline points="242.5,3330.7 1254,2621.7" fill="none" stroke="#2fab63" stroke-width="3.4" stroke-linejoin="round" clip-path="url(#c4)"/>
<line x1="242.5" y1="79.5" x2="1254.0" y2="79.5" stroke="#000" stroke-width="3.2"/>
<line x1="242.5" y1="891.6" x2="1254.0" y2="891.6" stroke="#000" stroke-width="4.2"/>
<line x1="242.5" y1="1704.3" x2="1254.0" y2="1704.3" stroke="#000" stroke-width="3.2"/>
<line x1="242.5" y1="2517.3" x2="1254.0" y2="2517.3" stroke="#000" stroke-width="5.0"/>
<line x1="242.5" y1="3331.0" x2="1254.0" y2="3331.0" stroke="#000" stroke-width="3.4"/>
<line x1="242.7" y1="77.9" x2="242.7" y2="3332.7" stroke="#000" stroke-width="3.2"/>
<line x1="1253.7" y1="77.9" x2="1253.7" y2="3332.7" stroke="#000" stroke-width="4"/>
<line x1="227.0" y1="79.6" x2="242.5" y2="79.6" stroke="#000" stroke-width="2.6"/>
<line x1="227.0" y1="195.6" x2="242.5" y2="195.6" stroke="#000" stroke-width="2.6"/>
<line x1="227.0" y1="311.6" x2="242.5" y2="311.6" stroke="#000" stroke-width="2.6"/>
<line x1="227.0" y1="427.6" x2="242.5" y2="427.6" stroke="#000" stroke-width="2.6"/>
<line x1="227.0" y1="543.7" x2="242.5" y2="543.7" stroke="#000" stroke-width="2.6"/>
<line x1="227.0" y1="659.7" x2="242.5" y2="659.7" stroke="#000" stroke-width="2.6"/>
<line x1="227.0" y1="775.7" x2="242.5" y2="775.7" stroke="#000" stroke-width="2.6"/>
<line x1="227.0" y1="891.7" x2="242.5" y2="891.7" stroke="#000" stroke-width="2.6"/>
<line x1="234.5" y1="137.6" x2="242.5" y2="137.6" stroke="#000" stroke-width="2.6"/>
<line x1="234.5" y1="253.6" x2="242.5" y2="253.6" stroke="#000" stroke-width="2.6"/>
<line x1="234.5" y1="369.6" x2="242.5" y2="369.6" stroke="#000" stroke-width="2.6"/>
<line x1="234.5" y1="485.6" x2="242.5" y2="485.6" stroke="#000" stroke-width="2.6"/>
<line x1="234.5" y1="601.7" x2="242.5" y2="601.7" stroke="#000" stroke-width="2.6"/>
<line x1="234.5" y1="717.7" x2="242.5" y2="717.7" stroke="#000" stroke-width="2.6"/>
<line x1="234.5" y1="833.7" x2="242.5" y2="833.7" stroke="#000" stroke-width="2.6"/>
<line x1="227.0" y1="993.3" x2="242.5" y2="993.3" stroke="#000" stroke-width="2.6"/>
<line x1="227.0" y1="1196.5" x2="242.5" y2="1196.5" stroke="#000" stroke-width="2.6"/>
<line x1="227.0" y1="1399.6" x2="242.5" y2="1399.6" stroke="#000" stroke-width="2.6"/>
<line x1="227.0" y1="1602.8" x2="242.5" y2="1602.8" stroke="#000" stroke-width="2.6"/>
<line x1="234.5" y1="1094.9" x2="242.5" y2="1094.9" stroke="#000" stroke-width="2.6"/>
<line x1="234.5" y1="1298.1" x2="242.5" y2="1298.1" stroke="#000" stroke-width="2.6"/>
<line x1="234.5" y1="1501.2" x2="242.5" y2="1501.2" stroke="#000" stroke-width="2.6"/>
<line x1="227.0" y1="1703.8" x2="242.5" y2="1703.8" stroke="#000" stroke-width="2.6"/>
<line x1="227.0" y1="1881.8" x2="242.5" y2="1881.8" stroke="#000" stroke-width="2.6"/>
<line x1="227.0" y1="2059.8" x2="242.5" y2="2059.8" stroke="#000" stroke-width="2.6"/>
<line x1="227.0" y1="2237.8" x2="242.5" y2="2237.8" stroke="#000" stroke-width="2.6"/>
<line x1="227.0" y1="2415.8" x2="242.5" y2="2415.8" stroke="#000" stroke-width="2.6"/>
<line x1="234.5" y1="1792.8" x2="242.5" y2="1792.8" stroke="#000" stroke-width="2.6"/>
<line x1="234.5" y1="1970.8" x2="242.5" y2="1970.8" stroke="#000" stroke-width="2.6"/>
<line x1="234.5" y1="2148.8" x2="242.5" y2="2148.8" stroke="#000" stroke-width="2.6"/>
<line x1="234.5" y1="2326.8" x2="242.5" y2="2326.8" stroke="#000" stroke-width="2.6"/>
<line x1="234.5" y1="2504.8" x2="242.5" y2="2504.8" stroke="#000" stroke-width="2.6"/>
<line x1="227.0" y1="2517.2" x2="242.5" y2="2517.2" stroke="#000" stroke-width="2.6"/>
<line x1="227.0" y1="2720.6" x2="242.5" y2="2720.6" stroke="#000" stroke-width="2.6"/>
<line x1="227.0" y1="2923.9" x2="242.5" y2="2923.9" stroke="#000" stroke-width="2.6"/>
<line x1="227.0" y1="3127.3" x2="242.5" y2="3127.3" stroke="#000" stroke-width="2.6"/>
<line x1="227.0" y1="3330.7" x2="242.5" y2="3330.7" stroke="#000" stroke-width="2.6"/>
<line x1="234.5" y1="2618.9" x2="242.5" y2="2618.9" stroke="#000" stroke-width="2.6"/>
<line x1="234.5" y1="2822.3" x2="242.5" y2="2822.3" stroke="#000" stroke-width="2.6"/>
<line x1="234.5" y1="3025.6" x2="242.5" y2="3025.6" stroke="#000" stroke-width="2.6"/>
<line x1="234.5" y1="3229" x2="242.5" y2="3229" stroke="#000" stroke-width="2.6"/>
<line x1="242.5" y1="891.7" x2="242.5" y2="907.2" stroke="#000" stroke-width="2.6"/>
<line x1="368.9" y1="891.7" x2="368.9" y2="900.2" stroke="#000" stroke-width="2.6"/>
<line x1="495.4" y1="891.7" x2="495.4" y2="907.2" stroke="#000" stroke-width="2.6"/>
<line x1="621.8" y1="891.7" x2="621.8" y2="900.2" stroke="#000" stroke-width="2.6"/>
<line x1="748.2" y1="891.7" x2="748.2" y2="907.2" stroke="#000" stroke-width="2.6"/>
<line x1="874.7" y1="891.7" x2="874.7" y2="900.2" stroke="#000" stroke-width="2.6"/>
<line x1="1001.1" y1="891.7" x2="1001.1" y2="907.2" stroke="#000" stroke-width="2.6"/>
<line x1="1127.6" y1="891.7" x2="1127.6" y2="900.2" stroke="#000" stroke-width="2.6"/>
<line x1="1254" y1="891.7" x2="1254" y2="907.2" stroke="#000" stroke-width="2.6"/>
<line x1="242.5" y1="1704.4" x2="242.5" y2="1719.9" stroke="#000" stroke-width="2.6"/>
<line x1="368.9" y1="1704.4" x2="368.9" y2="1712.9" stroke="#000" stroke-width="2.6"/>
<line x1="495.4" y1="1704.4" x2="495.4" y2="1719.9" stroke="#000" stroke-width="2.6"/>
<line x1="621.8" y1="1704.4" x2="621.8" y2="1712.9" stroke="#000" stroke-width="2.6"/>
<line x1="748.2" y1="1704.4" x2="748.2" y2="1719.9" stroke="#000" stroke-width="2.6"/>
<line x1="874.7" y1="1704.4" x2="874.7" y2="1712.9" stroke="#000" stroke-width="2.6"/>
<line x1="1001.1" y1="1704.4" x2="1001.1" y2="1719.9" stroke="#000" stroke-width="2.6"/>
<line x1="1127.6" y1="1704.4" x2="1127.6" y2="1712.9" stroke="#000" stroke-width="2.6"/>
<line x1="1254" y1="1704.4" x2="1254" y2="1719.9" stroke="#000" stroke-width="2.6"/>
<line x1="242.5" y1="2517.2" x2="242.5" y2="2532.7" stroke="#000" stroke-width="2.6"/>
<line x1="368.9" y1="2517.2" x2="368.9" y2="2525.7" stroke="#000" stroke-width="2.6"/>
<line x1="495.4" y1="2517.2" x2="495.4" y2="2532.7" stroke="#000" stroke-width="2.6"/>
<line x1="621.8" y1="2517.2" x2="621.8" y2="2525.7" stroke="#000" stroke-width="2.6"/>
<line x1="748.2" y1="2517.2" x2="748.2" y2="2532.7" stroke="#000" stroke-width="2.6"/>
<line x1="874.7" y1="2517.2" x2="874.7" y2="2525.7" stroke="#000" stroke-width="2.6"/>
<line x1="1001.1" y1="2517.2" x2="1001.1" y2="2532.7" stroke="#000" stroke-width="2.6"/>
<line x1="1127.6" y1="2517.2" x2="1127.6" y2="2525.7" stroke="#000" stroke-width="2.6"/>
<line x1="1254" y1="2517.2" x2="1254" y2="2532.7" stroke="#000" stroke-width="2.6"/>
<line x1="242.5" y1="3330.7" x2="242.5" y2="3346.2" stroke="#000" stroke-width="2.6"/>
<line x1="368.9" y1="3330.7" x2="368.9" y2="3339.2" stroke="#000" stroke-width="2.6"/>
<line x1="495.4" y1="3330.7" x2="495.4" y2="3346.2" stroke="#000" stroke-width="2.6"/>
<line x1="621.8" y1="3330.7" x2="621.8" y2="3339.2" stroke="#000" stroke-width="2.6"/>
<line x1="748.2" y1="3330.7" x2="748.2" y2="3346.2" stroke="#000" stroke-width="2.6"/>
<line x1="874.7" y1="3330.7" x2="874.7" y2="3339.2" stroke="#000" stroke-width="2.6"/>
<line x1="1001.1" y1="3330.7" x2="1001.1" y2="3346.2" stroke="#000" stroke-width="2.6"/>
<line x1="1127.6" y1="3330.7" x2="1127.6" y2="3339.2" stroke="#000" stroke-width="2.6"/>
<line x1="1254" y1="3330.7" x2="1254" y2="3346.2" stroke="#000" stroke-width="2.6"/>
<text transform="translate(215.6 95.4) scale(1 1.04)" text-anchor="end" font-size="51.6" font-family="Liberation Sans, sans-serif">0.16</text>
<text transform="translate(215.6 211.4) scale(1 1.04)" text-anchor="end" font-size="51.6" font-family="Liberation Sans, sans-serif">0.12</text>
<text transform="translate(215.6 327.4) scale(1 1.04)" text-anchor="end" font-size="51.6" font-family="Liberation Sans, sans-serif">0.08</text>
<text transform="translate(215.6 443.4) scale(1 1.04)" text-anchor="end" font-size="51.6" font-family="Liberation Sans, sans-serif">0.04</text>
<text transform="translate(215.6 559.5) scale(1 1.04)" text-anchor="end" font-size="51.6" font-family="Liberation Sans, sans-serif">0.00</text>
<text transform="translate(215.6 675.5) scale(1 1.04)" text-anchor="end" font-size="51.6" font-family="Liberation Sans, sans-serif">-0.04</text>
<text transform="translate(215.6 791.5) scale(1 1.04)" text-anchor="end" font-size="51.6" font-family="Liberation Sans, sans-serif">-0.08</text>
<text transform="translate(215.6 907.5) scale(1 1.04)" text-anchor="end" font-size="51.6" font-family="Liberation Sans, sans-serif">-0.12</text>
<text transform="translate(215.6 1009.1) scale(1 1.04)" text-anchor="end" font-size="51.6" font-family="Liberation Sans, sans-serif">90</text>
<text transform="translate(215.6 1212.3) scale(1 1.04)" text-anchor="end" font-size="51.6" font-family="Liberation Sans, sans-serif">80</text>
<text transform="translate(215.6 1415.4) scale(1 1.04)" text-anchor="end" font-size="51.6" font-family="Liberation Sans, sans-serif">70</text>
<text transform="translate(215.6 1618.6) scale(1 1.04)" text-anchor="end" font-size="51.6" font-family="Liberation Sans, sans-serif">60</text>
<text transform="translate(215.6 1719.6) scale(1 1.04)" text-anchor="end" font-size="51.6" font-family="Liberation Sans, sans-serif">1.5</text>
<text transform="translate(215.6 1897.6) scale(1 1.04)" text-anchor="end" font-size="51.6" font-family="Liberation Sans, sans-serif">1.2</text>
<text transform="translate(215.6 2075.6) scale(1 1.04)" text-anchor="end" font-size="51.6" font-family="Liberation Sans, sans-serif">0.9</text>
<text transform="translate(215.6 2253.6) scale(1 1.04)" text-anchor="end" font-size="51.6" font-family="Liberation Sans, sans-serif">0.6</text>
<text transform="translate(215.6 2431.6) scale(1 1.04)" text-anchor="end" font-size="51.6" font-family="Liberation Sans, sans-serif">0.3</text>
<text transform="translate(215.6 2533) scale(1 1.04)" text-anchor="end" font-size="51.6" font-family="Liberation Sans, sans-serif">2000</text>
<text transform="translate(215.6 2736.4) scale(1 1.04)" text-anchor="end" font-size="51.6" font-family="Liberation Sans, sans-serif">1500</text>
<text transform="translate(215.6 2939.8) scale(1 1.04)" text-anchor="end" font-size="51.6" font-family="Liberation Sans, sans-serif">1000</text>
<text transform="translate(215.6 3143.1) scale(1 1.04)" text-anchor="end" font-size="51.6" font-family="Liberation Sans, sans-serif">500</text>
<text transform="translate(215.6 3346.5) scale(1 1.04)" text-anchor="end" font-size="51.6" font-family="Liberation Sans, sans-serif">0</text>
<text transform="translate(242.9 3398.8) scale(1 1.04)" text-anchor="middle" font-size="51.6" font-family="Liberation Sans, sans-serif">0</text>
<text transform="translate(495.8 3398.8) scale(1 1.04)" text-anchor="middle" font-size="51.6" font-family="Liberation Sans, sans-serif">5</text>
<text transform="translate(748.6 3398.8) scale(1 1.04)" text-anchor="middle" font-size="51.6" font-family="Liberation Sans, sans-serif">10</text>
<text transform="translate(1001.5 3398.8) scale(1 1.04)" text-anchor="middle" font-size="51.6" font-family="Liberation Sans, sans-serif">15</text>
<text transform="translate(1254.4 3398.8) scale(1 1.04)" text-anchor="middle" font-size="51.6" font-family="Liberation Sans, sans-serif">20</text>
<text transform="translate(749.8 3497.4) scale(1 1.04)" text-anchor="middle" font-size="70" font-family="Liberation Sans, sans-serif">Time (s)</text>
<text transform="translate(74.1 484.6) rotate(-90) scale(1 1.04)" text-anchor="middle" font-size="63.5" font-family="Liberation Sans, sans-serif">Float elevation (m)</text>
<text transform="translate(79.9 1298.6) rotate(-90) scale(1 1.04)" text-anchor="middle" font-size="64.8" font-family="Liberation Sans, sans-serif">Speed (rpm)</text>
<text transform="translate(95 2110.3) rotate(-90) scale(1 1.04)" text-anchor="middle" font-size="64" font-family="Liberation Sans, sans-serif">Torque (Nm)</text>
<text transform="translate(77.9 2920.7) rotate(-90) scale(1 1.04)" text-anchor="middle" font-size="63.3" font-family="Liberation Sans, sans-serif">Energy (J)</text>
<text transform="translate(1257.8 64.3) scale(1 1.0)" text-anchor="end" font-size="55.2" font-family="Liberation Sans, sans-serif">Case 3: w=4;H=0.198;Ru=0.15</text>
<rect x="264.5" y="97.9" width="974.0" height="85.9" fill="#fff" stroke="#4a4a4a" stroke-width="1.4"/>
<line x1="271.9" y1="140.2" x2="416" y2="140.2" stroke="#2fab63" stroke-width="3"/>
<text transform="translate(433.4 161.6) scale(1 1.04)" font-size="63.5" font-family="Liberation Sans, sans-serif">Wave</text>
<line x1="610.8" y1="140.2" x2="752.8" y2="140.2" stroke="#474747" stroke-width="3" stroke-dasharray="15.5 15.5"/>
<text transform="translate(769.3 161.6) scale(1 1.04)" font-size="63.5" font-family="Liberation Sans, sans-serif">I1</text>
<line x1="822.5" y1="140.2" x2="960.8" y2="140.2" stroke="#ee3333" stroke-width="3" stroke-dasharray="19 7.5 5 7.5"/>
<text transform="translate(981.1 161.6) scale(1 1.04)" font-size="63.5" font-family="Liberation Sans, sans-serif">I2</text>
<line x1="1034.7" y1="140.2" x2="1178.6" y2="140.2" stroke="#1766d8" stroke-width="3"/>
<text transform="translate(1175.9 161.6) scale(1 1.04)" font-size="63.5" font-family="Liberation Sans, sans-serif">I3</text>
<rect x="449.2" y="918" width="651.2" height="85" fill="#fff" stroke="#3a3a3a" stroke-width="1.4"/>
<line x1="456.6" y1="960.5" x2="598.3" y2="960.5" stroke="#474747" stroke-width="3" stroke-dasharray="15.5 15.5"/>
<text transform="translate(615.4 981.4) scale(1 1.04)" font-size="63.5" font-family="Liberation Sans, sans-serif">I1</text>
<line x1="667.5" y1="960.5" x2="805.9" y2="960.5" stroke="#ee3333" stroke-width="3" stroke-dasharray="19 7.5 5 7.5"/>
<text transform="translate(825.9 981.4) scale(1 1.04)" font-size="63.5" font-family="Liberation Sans, sans-serif">I2</text>
<line x1="880.6" y1="960.5" x2="1024.2" y2="960.5" stroke="#1766d8" stroke-width="3"/>
<text transform="translate(1038.6 981.4) scale(1 1.04)" font-size="63.5" font-family="Liberation Sans, sans-serif">I3</text>
<rect x="461.8" y="1725.9" width="651.2" height="85.79999999999995" fill="#fff" stroke="#b0b0b0" stroke-width="1.7"/>
<line x1="467.8" y1="1768.5" x2="609.8" y2="1768.5" stroke="#474747" stroke-width="3" stroke-dasharray="15.5 15.5"/>
<text transform="translate(626.1 1789.3) scale(1 1.04)" font-size="63.5" font-family="Liberation Sans, sans-serif">I1</text>
<line x1="680" y1="1768.5" x2="817.7" y2="1768.5" stroke="#ee3333" stroke-width="3" stroke-dasharray="19 7.5 5 7.5"/>
<text transform="translate(837.7 1789.3) scale(1 1.04)" font-size="63.5" font-family="Liberation Sans, sans-serif">I2</text>
<line x1="892.8" y1="1768.5" x2="1034.9" y2="1768.5" stroke="#1766d8" stroke-width="3"/>
<text transform="translate(1050.5 1789.3) scale(1 1.04)" font-size="63.5" font-family="Liberation Sans, sans-serif">I3</text>
<rect x="262.4" y="2538" width="980.5000000000001" height="77.59999999999991" fill="#fff" stroke="#4a4a4a" stroke-width="1.4"/>
<line x1="269.8" y1="2576.8" x2="400" y2="2576.8" stroke="#474747" stroke-width="3"/>
<text transform="translate(413.6 2596.8) scale(1 1.04)" font-size="57" font-family="Liberation Sans, sans-serif">I1</text>
<line x1="462.2" y1="2576.8" x2="592.4" y2="2576.8" stroke="#ee3333" stroke-width="3"/>
<text transform="translate(606.2 2596.8) scale(1 1.04)" font-size="57" font-family="Liberation Sans, sans-serif">I2</text>
<line x1="654.7" y1="2576.8" x2="784.2" y2="2576.8" stroke="#1766d8" stroke-width="3"/>
<text transform="translate(798.5 2596.8) scale(1 1.04)" font-size="57" font-family="Liberation Sans, sans-serif">I3</text>
<line x1="846" y1="2576.8" x2="976.2" y2="2576.8" stroke="#2fab63" stroke-width="3"/>
<text transform="translate(991.8 2596.8) scale(1 1.04)" font-size="57.4" font-family="Liberation Sans, sans-serif">1/3 Wave</text>
</svg>
</body></html>
